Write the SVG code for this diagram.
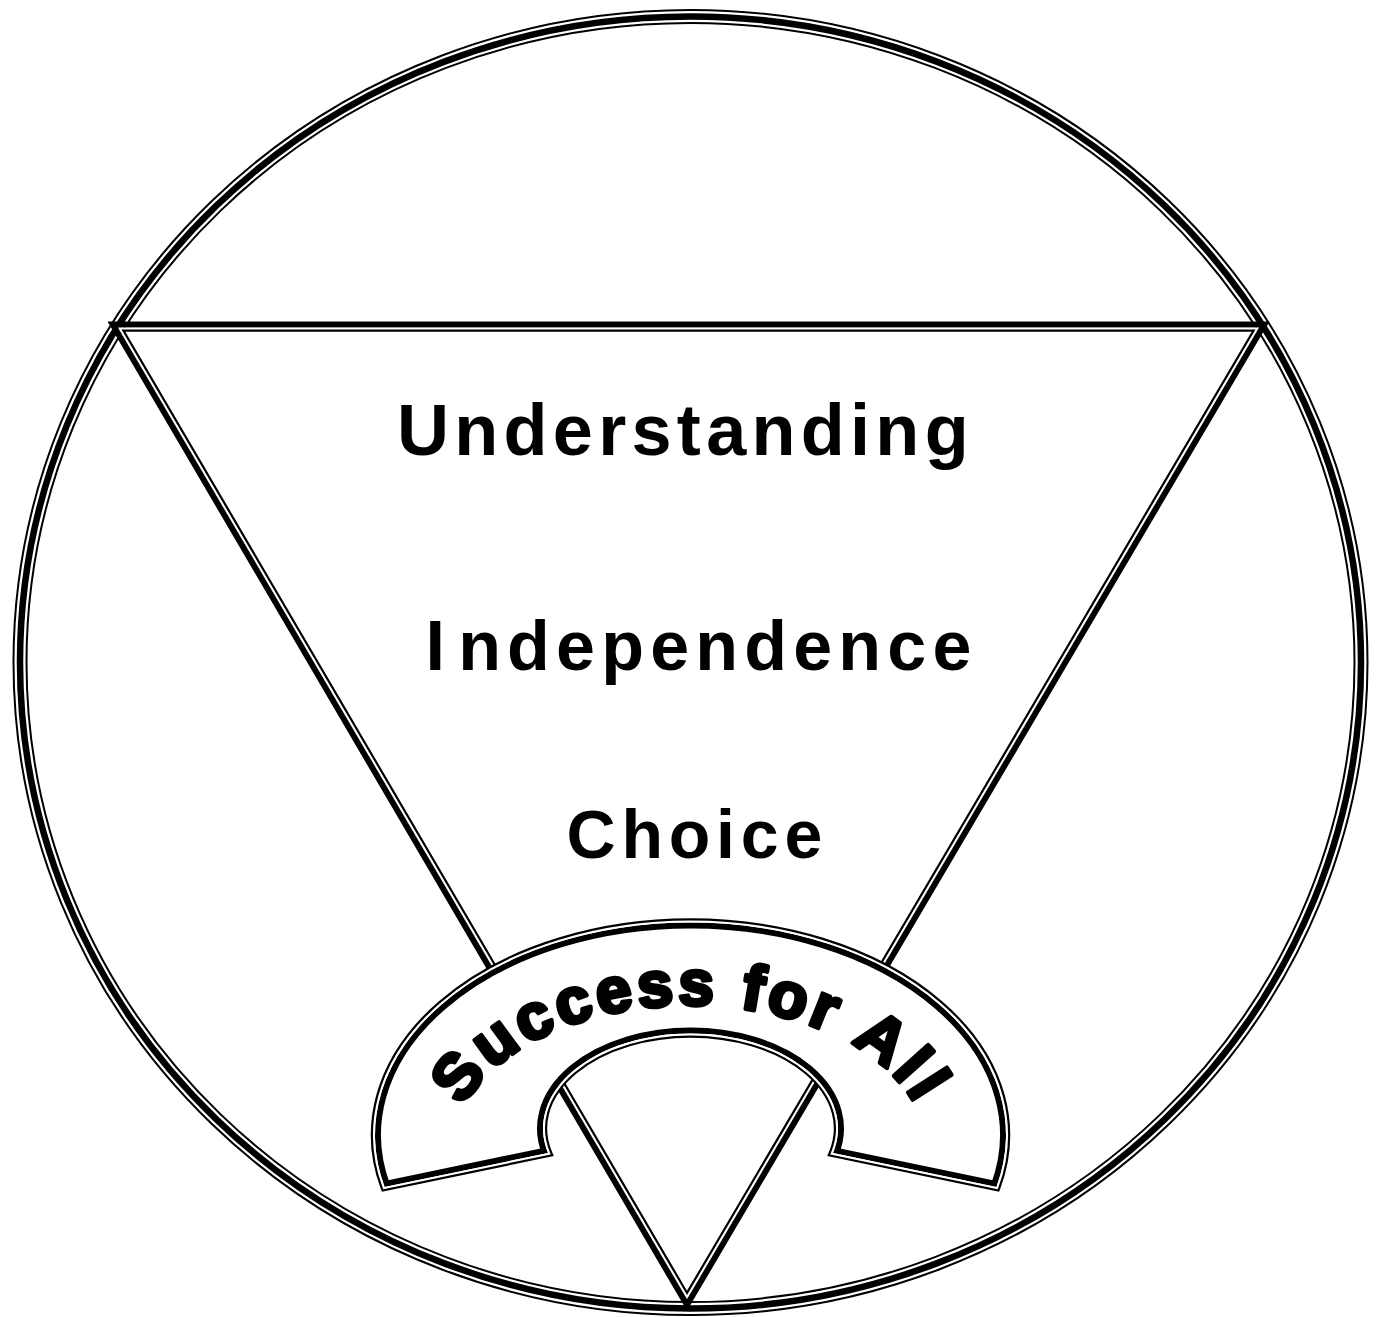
<svg xmlns="http://www.w3.org/2000/svg" xmlns:xlink="http://www.w3.org/1999/xlink" width="1376" height="1317" viewBox="0 0 1376 1317">
<style>
.lbl{font-family:"Liberation Sans",Arial,sans-serif;font-weight:bold;fill:#000;}
.arc{font-family:"Liberation Sans",Arial,sans-serif;font-weight:bold;fill:#000;stroke:#000;stroke-width:4;stroke-linejoin:round;}
.nofill{fill:none;}
</style>
<defs>
<clipPath id="triIn"><polygon points="118,327.5 1259,327.5 687,1299"/></clipPath>
<mask id="triOut" maskUnits="userSpaceOnUse" x="0" y="0" width="1376" height="1317"><rect width="1376" height="1317" fill="#fff"/><polygon points="118,327.5 1259,327.5 687,1299" fill="#000"/></mask>
<path id="archShape" d="M 384.6,1187 A 315.5 212.5 0 1 1 996.4,1187 L 833,1153 A 147.5 95 0 1 0 548,1153 Z"/>
<clipPath id="archIn"><use xlink:href="#archShape"/></clipPath>
<mask id="archOut" maskUnits="userSpaceOnUse" x="0" y="0" width="1376" height="1317"><rect width="1376" height="1317" fill="#fff"/><use xlink:href="#archShape" fill="#000"/></mask>
<path id="sfaPath" d="M 452,1152 A 238 147 0 0 1 928,1152" fill="none"/>
</defs>
<rect width="1376" height="1317" fill="#fff"/>
<g id="circle" class="nofill">
<ellipse cx="690.5" cy="662.5" rx="670.5" ry="646" stroke="#000" stroke-width="15"/>
<ellipse cx="690.5" cy="662.5" rx="670.5" ry="646" stroke="#fff" stroke-width="11"/>
<ellipse cx="690.5" cy="662.5" rx="670.5" ry="646" stroke="#000" stroke-width="6.5"/>
</g>
<g id="triangle" class="nofill">
<g mask="url(#triOut)"><polygon points="118,327.5 1259,327.5 687,1299" stroke="#000" stroke-width="12"/></g>
<g clip-path="url(#triIn)"><polygon points="118,327.5 1259,327.5 687,1299" stroke="#000" stroke-width="8.4"/><polygon points="118,327.5 1259,327.5 687,1299" stroke="#fff" stroke-width="4"/></g>
</g>
<g id="arch">
<use xlink:href="#archShape" fill="#fff"/>
<g clip-path="url(#archIn)"><use xlink:href="#archShape" fill="none" stroke="#000" stroke-width="12"/></g>
<g mask="url(#archOut)"><use xlink:href="#archShape" fill="none" stroke="#000" stroke-width="8.4"/><use xlink:href="#archShape" fill="none" stroke="#fff" stroke-width="4"/></g>
<text class="arc" font-size="64" letter-spacing="4"><textPath xlink:href="#sfaPath" startOffset="50%" text-anchor="middle">Success for All</textPath></text>
</g>
<g id="understanding"><text class="lbl" x="397" y="455" font-size="72" letter-spacing="5.3">Understanding</text></g>
<g id="independence"><text class="lbl" x="425.5" y="670" font-size="70" letter-spacing="6.2">I<tspan dx="7">ndependence</tspan></text></g>
<g id="choice"><text class="lbl" x="566.5" y="858" font-size="68" letter-spacing="5.8">Choice</text></g>
</svg>
